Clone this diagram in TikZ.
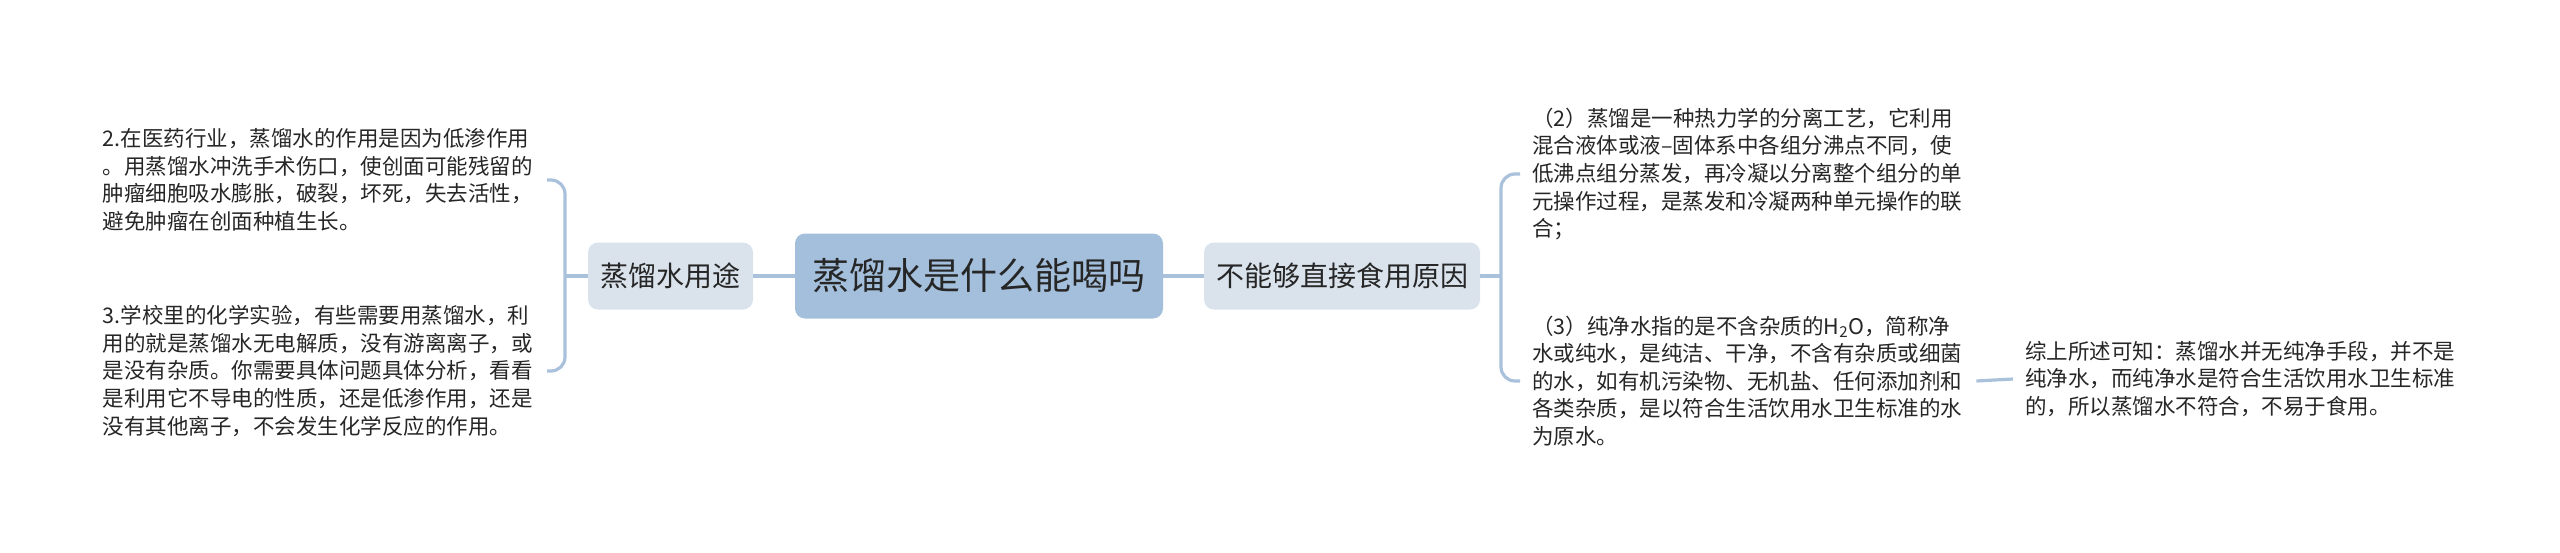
\documentclass[tikz,border=0pt]{standalone}
\usepackage{fontspec}
\setmainfont{Noto Sans CJK SC}
\usepackage{tikz}
\usetikzlibrary{
	positioning,
	calc
}
\usepackage{xcolor}
\definecolor{rootfill}{HTML}{A3BFDB}
\definecolor{subfill}{HTML}{DAE3EC}
\definecolor{linkcol}{HTML}{A9C1DA}
\definecolor{txtcol}{HTML}{262626}

\begin{document}
\begin{tikzpicture}[x=1pt,y=-1pt,
		rootbox/.style={fill=rootfill,rounded corners=10,minimum width=368,minimum height=85,
			text=txtcol,font=\fontsize{37}{42}\selectfont},
		subbox/.style={fill=subfill,rounded corners=10,minimum height=67,inner xsep=9,
			text=txtcol,font=\fontsize{28}{32}\selectfont},
		leaf/.style={text width=432,align=left,inner xsep=12,inner ysep=4,
			text=txtcol,font=\fontsize{21.5}{27.6}\selectfont},
		link/.style={draw=linkcol,line width=3.2}
	]
		
		\useasboundingbox (0,0) rectangle (2560,552);
		
		% main nodes
		\node[rootbox] (root) at (979,276) {蒸馏水是什么能喝吗};
		\node[subbox,minimum width=165] (use) at (670.5,276) {蒸馏水用途};
		\node[subbox,minimum width=276] (why) at (1342,276) {不能够直接食用原因};
		
		% junctions of the brackets
		\coordinate (lj) at (565,276);
		\coordinate (rj) at (1501,276);
		
		% left leaves
		\node[leaf,anchor=east] (use1) at (547,180) {2.在医药行业，蒸馏水的作用是因为低渗作用\\
			。用蒸馏水冲洗手术伤口，使创面可能残留的\\
			肿瘤细胞吸水膨胀，破裂，坏死，失去活性，\\
			避免肿瘤在创面种植生长。};
		\node[leaf,anchor=east] (use2) at (547,371) {3.学校里的化学实验，有些需要用蒸馏水，利\\
			用的就是蒸馏水无电解质，没有游离离子，或\\
			是没有杂质。你需要具体问题具体分析，看看\\
			是利用它不导电的性质，还是低渗作用，还是\\
			没有其他离子，不会发生化学反应的作用。};
		
		% right leaves
		\node[leaf,anchor=west] (why1) at (1520,174) {（2）蒸馏是一种热力学的分离工艺，它利用\\
			混合液体或液–固体系中各组分沸点不同，使\\
			低沸点组分蒸发，再冷凝以分离整个组分的单\\
			元操作过程，是蒸发和冷凝两种单元操作的联\\
			合；};
		\node[leaf,anchor=west] (why2) at (1520,381) {（3）纯净水指的是不含杂质的H\textsubscript{2}O，简称净\\
			水或纯水，是纯洁、干净，不含有杂质或细菌\\
			的水，如有机污染物、无机盐、任何添加剂和\\
			各类杂质，是以符合生活饮用水卫生标准的水\\
			为原水。};
		\node[leaf,anchor=west] (sum) at (2013,379) {综上所述可知：蒸馏水并无纯净手段，并不是\\
			纯净水，而纯净水是符合生活饮用水卫生标准\\
			的，所以蒸馏水不符合，不易于食用。};
		
		% connectors
		\draw[link] (root.west) -- (use.east);
		\draw[link] (root.east) -- (why.west);
		\draw[link] (use.west) -- (lj);
		\draw[link,rounded corners=14] (use1.east) -| (lj);
		\draw[link,rounded corners=14] (use2.east) -| (lj);
		\draw[link] (why.east) -- (rj);
		\draw[link,rounded corners=14] (why1.west) -| (rj);
		\draw[link,rounded corners=14] (why2.west) -| (rj);
		\draw[link] (why2.east) -- (sum.west);
		
	\end{tikzpicture}
\end{document}
